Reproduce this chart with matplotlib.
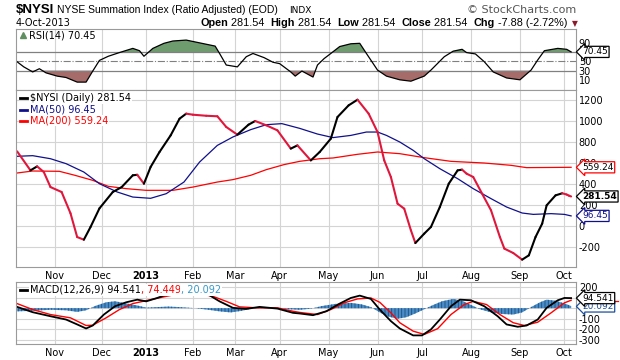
import matplotlib
matplotlib.use('Agg')
import matplotlib.pyplot as plt

plt.rcParams['axes.unicode_minus'] = False
plt.rcParams['font.family'] = 'DejaVu Sans'
plt.rcParams['hatch.linewidth'] = 0.6

# trading-day index of the first session of each month
month_pos = [17, 38, 58, 79, 98, 118, 140, 162, 182, 204, 226, 246]
month_lbl = ['Nov', 'Dec', '2013', 'Feb', 'Mar', 'Apr', 'May', 'Jun', 'Jul', 'Aug', 'Sep', 'Oct']

# $NYSI daily (trading-day index -> value)
nysi_day = [0, 6, 9, 12, 15, 20, 24, 27, 30, 33, 37, 43, 47, 52, 54, 57, 60, 64, 69, 73, 76, 79, 85, 90,
            94, 99, 104, 107, 112, 117, 123, 126, 132, 136, 141, 144, 149, 153, 158, 162, 165, 168, 171,
            174, 177, 179, 183, 186, 190, 194, 198, 200, 202, 205, 209, 213, 217, 219, 223, 227, 230, 233,
            236, 238, 242, 245, 247, 248, 249]
nysi_val = [711, 530, 568, 514, 371, 324, 121, -105, -130, -9, 168, 324, 371, 483, 488, 403, 562, 705, 863,
            1022, 1070, 1060, 1050, 1045, 943, 870, 965, 1000, 959, 911, 737, 768, 625, 705, 832, 1038, 1149,
            1203, 1070, 895, 625, 467, 213, 165, -41, -162, -72, -9, 181, 403, 530, 537, 499, 467, 308, 150,
            -105, -215, -257, -320, -279, -105, 23, 197, 292, 312, 300, 289.42, 281.54]

ma50_day = [0, 7, 15, 22, 30, 37, 45, 52, 60, 67, 75, 82, 90, 97, 105, 112, 119, 127, 135, 142, 150, 157,
            162, 166, 172, 178, 183, 190, 198, 205, 213, 220, 227, 232, 240, 246, 249]
ma50_val = [664, 670, 641, 594, 514, 403, 324, 276, 264, 308, 419, 609, 768, 848, 918, 965, 975, 930, 876,
            842, 863, 895, 895, 863, 800, 721, 641, 546, 451, 356, 261, 181, 124, 111, 118, 111, 96.45]

ma200_day = [0, 7, 19, 26, 34, 41, 49, 58, 70, 79, 90, 97, 105, 112, 120, 127, 136, 142, 153, 162, 172,
             183, 195, 210, 222, 229, 249]
ma200_val = [505, 524, 521, 483, 435, 378, 356, 340, 340, 371, 419, 442, 483, 537, 585, 616, 641, 648, 683,
             705, 689, 651, 616, 600, 578, 556, 559.24]

rsi_day = [0, 3, 7, 10, 13, 18, 22, 27, 31, 34, 37, 41, 46, 52, 55, 57, 61, 66, 70, 76, 82, 89, 91, 94, 99,
           103, 106, 111, 115, 118, 123, 125, 128, 133, 135, 138, 141, 145, 150, 154, 157, 162, 166, 172,
           177, 183, 186, 192, 196, 200, 202, 206, 210, 214, 220, 226, 231, 234, 237, 243, 247, 249]
rsi_val = [49, 38, 27, 34, 25, 18, 15, 5, 5, 29, 52, 61, 69, 78, 73, 61, 78, 89, 94, 96, 90, 83, 67, 42, 38,
           60, 67, 58, 48, 45, 27, 18, 29, 16, 42, 56, 67, 82, 88, 89, 67, 31, 18, 10, 7, 18, 31, 60, 72,
           76, 69, 66, 49, 27, 14, 10, 31, 53, 73, 78, 76, 70.45]

macd_day = [0, 7, 15, 22, 27, 31, 34, 39, 44, 49, 54, 58, 63, 67, 73, 79, 86, 91, 97, 103, 109, 117, 124,
            127, 133, 139, 145, 150, 154, 159, 163, 168, 172, 178, 182, 186, 190, 195, 199, 204, 210, 216,
            220, 225, 229, 234, 238, 243, 246, 249]
macd_val = [12, -38, -76, -107, -153, -191, -163, -60, 18, 55, 80, 64, 96, 127, 150, 158, 127, 64, 3, -7,
            12, -4, -44, -50, -66, -29, 43, 96, 118, 87, -13, -122, -191, -256, -256, -200, -107, 18, 80,
            74, 18, -76, -153, -175, -163, -107, 3, 74, 96, 94.541]

signal_day = [0, 7, 15, 24, 31, 34, 40, 46, 52, 60, 67, 73, 80, 88, 94, 100, 108, 117, 124, 127, 135, 141,
              147, 153, 159, 163, 168, 172, 178, 183, 189, 195, 201, 205, 211, 217, 223, 228, 234, 240,
              246, 249]
signal_val = [43, -13, -60, -91, -163, -160, -91, -13, 43, 80, 111, 136, 145, 111, 64, 12, 3, 3, -29, -40,
              -60, -13, 50, 87, 96, 55, -44, -137, -216, -247, -193, -60, 34, 64, 34, -60, -137, -163,
              -132, -44, 50, 74.449]

hist_day = [0, 7, 15, 22, 27, 31, 35, 40, 44, 49, 54, 58, 63, 68, 73, 80, 86, 91, 96, 101, 106, 111, 117,
            122, 127, 132, 137, 143, 150, 155, 159, 163, 167, 171, 175, 179, 183, 187, 191, 196, 200, 204,
            208, 213, 218, 223, 227, 231, 235, 238, 242, 246, 249]
hist_val = [-30, -25, -15, -20, -35, -20, 20, 55, 65, 45, 25, 5, 10, 15, 10, 0, -15, -30, -40, -25, 0, 10,
            5, -10, -15, -5, 20, 40, 50, 35, 10, -40, -80, -100, -85, -50, -10, 30, 65, 87, 70, 30, -10,
            -40, -55, -60, -40, 10, 55, 80, 70, 45, 20.092]

GRID = '#d4d4d4'
SPINE = '#9a9a9a'
NYSI_UP = 'black'
NYSI_DN = '#e0173d'
MA50_C = '#10108c'
MA200_C = '#ff0000'
HIST_C = '#4a8cc8'

fig = plt.figure(figsize=(6.2, 3.6), dpi=100)


def px_axes(left, top, right, bottom):
    return fig.add_axes([left / 620, 1 - bottom / 360, (right - left) / 620, (bottom - top) / 360])


ax_rsi = px_axes(16, 29, 576, 89.5)
ax_main = px_axes(16, 89.5, 576, 267)
ax_macd = px_axes(16, 282, 576, 344)

for ax in (ax_rsi, ax_main, ax_macd):
    ax.set_xlim(-0.5, 251.2)
    ax.set_xticks(month_pos)
    ax.grid(axis='x', color=GRID, lw=0.8)
    ax.set_axisbelow(True)
    ax.yaxis.tick_right()
    ax.tick_params(axis='both', length=0, labelsize=7, pad=2, colors='black')
    for s in ax.spines.values():
        s.set_color(SPINE)
        s.set_linewidth(0.8)

ax_rsi.set_xticklabels([])
for ax in (ax_main, ax_macd):
    ax.set_xticklabels(month_lbl)
    ax.tick_params(axis='x', pad=3)
    for t in ax.get_xticklabels():
        if t.get_text() == '2013':
            t.set_fontweight('bold')


def tag(ax, val, txt, edge, tcolor='black', bold=False, z=20):
    ax.annotate(txt, xy=(1, val), xycoords=('axes fraction', 'data'), xytext=(4.5, 0),
                textcoords='offset points', ha='left', va='center', fontsize=6.5, color=tcolor,
                fontweight='bold' if bold else 'normal', annotation_clip=False, zorder=z,
                bbox=dict(boxstyle='larrow,pad=0.12', fc='white', ec=edge, lw=0.9))


# ---- RSI panel (the 70 label sits under the value tag, as on the original)
ax_rsi.set_ylim(-11, 120)
ax_rsi.set_yticks([10, 30, 50, 90])
ax_rsi.axhline(70, color='#808080', lw=0.9)
ax_rsi.axhline(30, color='#808080', lw=0.9)
ax_rsi.axhline(50, color='#808080', lw=0.8, ls='-.')
ax_rsi.fill_between(rsi_day, rsi_val, 70, where=[v >= 70 for v in rsi_val], interpolate=True,
                    color='#6f9c6f', lw=0)
ax_rsi.fill_between(rsi_day, rsi_val, 30, where=[v <= 30 for v in rsi_val], interpolate=True,
                    color='#a66c6a', lw=0)
ax_rsi.plot(rsi_day, rsi_val, color='black', lw=0.9)
ax_rsi.plot([0.013], [0.893], marker='^', color='#5f8f5f', ms=5, transform=ax_rsi.transAxes)
ax_rsi.text(0.024, 0.893, 'RSI(14) 70.45', transform=ax_rsi.transAxes, fontsize=7, va='center',
            zorder=30)
tag(ax_rsi, 70.45, '70.45', 'black')

# ---- price panel
ax_main.set_ylim(-390, 1300)
ax_main.set_yticks(range(-200, 1201, 200))
ax_main.grid(axis='y', color=GRID, lw=0.8)
ax_main.plot(ma200_day, ma200_val, color=MA200_C, lw=0.9)
ax_main.plot(ma50_day, ma50_val, color=MA50_C, lw=0.9)
for i in range(len(nysi_day) - 1):
    c = NYSI_UP if nysi_val[i + 1] >= nysi_val[i] else NYSI_DN
    ax_main.plot(nysi_day[i:i + 2], nysi_val[i:i + 2], color=c, lw=1.5, solid_capstyle='round')

legend_rows = [('\\$NYSI (Daily) 281.54', 'black', 'black', 0.952),
               ('MA(50) 96.45', MA50_C, MA50_C, 0.887),
               ('MA(200) 559.24', MA200_C, MA200_C, 0.825)]
for txt, lc, tc, yy in legend_rows:
    ax_main.plot([0.007, 0.02], [yy, yy], transform=ax_main.transAxes, color=lc, lw=2, zorder=31)
    ax_main.text(0.025, yy, txt, transform=ax_main.transAxes, fontsize=7, va='center', color=tc,
                 zorder=30, bbox=dict(fc='white', ec='none', pad=0.6))

tag(ax_main, 559.24, '559.24', MA200_C, z=20)
tag(ax_main, 96.45, '96.45', MA50_C, tcolor=MA50_C, z=21)
tag(ax_main, 281.54, '281.54', 'black', bold=True, z=22)

# ---- MACD panel (0 and 100 labels hidden under the value tags)
ax_macd.set_ylim(-337, 246)
ax_macd.set_yticks(range(-300, 201, 100))
ax_macd.set_yticklabels(['-300', '-200', '-100', '', '', '200'])
ax_macd.grid(axis='y', color=GRID, lw=0.8)
ax_macd.fill_between(hist_day, 0, hist_val, facecolor=HIST_C, edgecolor='#1f4e7a', hatch='|||||', lw=0)
ax_macd.plot(signal_day, signal_val, color='#ff0000', lw=1.0)
ax_macd.plot(macd_day, macd_val, color='black', lw=1.3)

ax_macd.plot([0.007, 0.02], [0.871, 0.871], transform=ax_macd.transAxes, color='black', lw=2, zorder=31)
prev = ax_macd.text(0.025, 0.871, 'MACD(12,26,9) 94.541', transform=ax_macd.transAxes, fontsize=7,
                    va='center', zorder=30, bbox=dict(fc='white', ec='none', pad=0.6))
for txt, tc in ((', 74.449', '#ff0000'), (', 20.092', '#3399cc')):
    prev = ax_macd.annotate(txt, xy=(1, 0), xycoords=prev, ha='left', va='bottom', fontsize=7, color=tc,
                            zorder=30, bbox=dict(fc='white', ec='none', pad=0.6))

# the signal tag sits hidden under the MACD tag; only its red edge shows
ax_macd.plot([1.005, 1.075], [70, 70], transform=ax_macd.get_yaxis_transform(), color='#ff0000',
             lw=0.9, clip_on=False, zorder=19)
tag(ax_macd, 16, '20.092', '#1c4f9c', tcolor='#1c4f9c', z=20)
tag(ax_macd, 94.541, '94.541', 'black', z=22)

# ---- header
hdr = fig.add_axes([0, 0, 1, 1], zorder=-1)
hdr.axis('off')
hdr.set_xlim(0, 620)
hdr.set_ylim(360, 0)
hdr.text(16, 10, '\\$NYSI', fontsize=9.5, fontweight='bold', family='Liberation Sans', va='center')
hdr.text(57, 10, 'NYSE Summation Index (Ratio Adjusted) (EOD)', fontsize=7.5, family='Liberation Sans',
         va='center')
hdr.text(289, 10.5, 'INDX', fontsize=6.5, family='DejaVu Sans', va='center')
hdr.text(576, 10, '\u00a9 StockCharts.com', fontsize=8, family='DejaVu Sans', color='#555555',
         ha='right', va='center')
hdr.text(16, 23, '4-Oct-2013', fontsize=7, va='center')

hdr.text(575, 23.5, '\u25bc', fontsize=5.5, color='#8b1a2a', ha='center', va='center')
pieces = [('Open', True), (' 281.54  ', False), ('High', True), (' 281.54  ', False),
          ('Low', True), (' 281.54  ', False), ('Close', True), (' 281.54  ', False),
          ('Chg', True), (' -7.88 (-2.72%)', False)]
prev = None
for txt, bold in reversed(pieces):
    w = 'bold' if bold else 'normal'
    if prev is None:
        prev = hdr.text(567, 23, txt, fontsize=7.85, fontweight=w, family='Liberation Sans', ha='right',
                        va='center')
    else:
        prev = hdr.annotate(txt, xy=(0, 0.5), xycoords=prev, ha='right', va='center', fontsize=7.85,
                            fontweight=w, family='Liberation Sans')

fig.savefig('out.png', dpi=100)
